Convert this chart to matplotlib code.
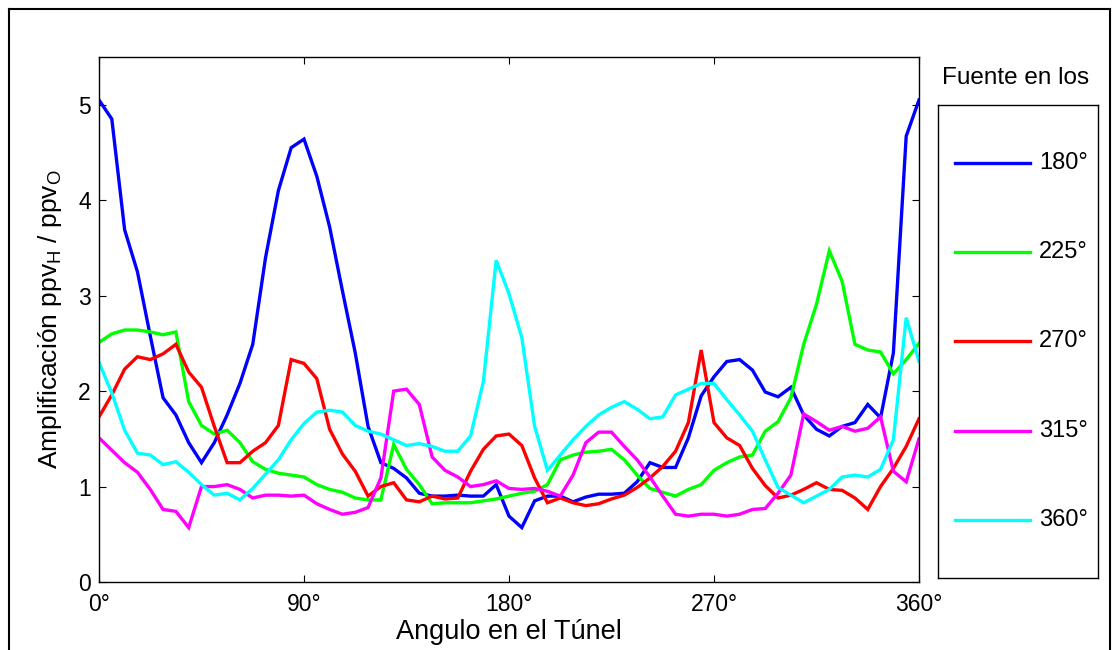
import numpy as np
import matplotlib
matplotlib.use("Agg")
import matplotlib.pyplot as plt
from matplotlib.lines import Line2D

plt.rcParams['font.family'] = ['Liberation Sans', 'DejaVu Sans']
plt.rcParams['mathtext.fontset'] = 'custom'
plt.rcParams['mathtext.rm'] = 'Liberation Sans'

# Angular positions around the tunnel (65 stations over the full circle)
angulo = np.linspace(0, 360, 65)

fuente_180 = [5.05, 4.85, 3.69, 3.25, 2.58, 1.93, 1.75, 1.46, 1.25, 1.46, 1.75, 2.08, 2.49,
              3.40, 4.10, 4.55, 4.64, 4.25, 3.72, 3.05, 2.40, 1.63, 1.25, 1.19, 1.09, 0.93,
              0.90, 0.90, 0.91, 0.90, 0.90, 1.02, 0.69, 0.57, 0.85, 0.90, 0.90, 0.84, 0.89,
              0.92, 0.92, 0.93, 1.05, 1.25, 1.20, 1.20, 1.51, 1.95, 2.15, 2.31, 2.33, 2.22,
              1.99, 1.94, 2.04, 1.75, 1.60, 1.53, 1.63, 1.67, 1.86, 1.72, 2.40, 4.67, 5.05]

fuente_225 = [2.51, 2.60, 2.64, 2.64, 2.62, 2.59, 2.62, 1.89, 1.64, 1.55, 1.59, 1.46, 1.26,
              1.18, 1.14, 1.12, 1.10, 1.02, 0.97, 0.94, 0.88, 0.86, 0.86, 1.44, 1.18, 1.02,
              0.82, 0.83, 0.83, 0.83, 0.85, 0.87, 0.90, 0.93, 0.95, 1.02, 1.28, 1.33, 1.36,
              1.37, 1.39, 1.28, 1.12, 0.98, 0.94, 0.90, 0.97, 1.02, 1.17, 1.25, 1.31, 1.33,
              1.58, 1.68, 1.93, 2.49, 2.91, 3.47, 3.15, 2.49, 2.43, 2.41, 2.18, 2.33, 2.50]

fuente_270 = [1.73, 1.96, 2.23, 2.36, 2.33, 2.39, 2.49, 2.20, 2.04, 1.63, 1.25, 1.25, 1.37,
              1.46, 1.64, 2.33, 2.29, 2.13, 1.60, 1.34, 1.16, 0.90, 1.00, 1.04, 0.86, 0.84,
              0.90, 0.87, 0.88, 1.16, 1.39, 1.53, 1.55, 1.43, 1.09, 0.83, 0.88, 0.83, 0.80,
              0.82, 0.87, 0.91, 0.99, 1.09, 1.21, 1.37, 1.67, 2.43, 1.67, 1.51, 1.43, 1.19,
              1.01, 0.88, 0.91, 0.97, 1.04, 0.97, 0.96, 0.88, 0.76, 1.00, 1.19, 1.42, 1.71]

fuente_315 = [1.51, 1.38, 1.25, 1.15, 0.97, 0.76, 0.74, 0.57, 1.00, 1.00, 1.02, 0.97, 0.88,
              0.91, 0.91, 0.90, 0.91, 0.82, 0.76, 0.71, 0.73, 0.78, 1.09, 2.00, 2.02, 1.86,
              1.31, 1.17, 1.10, 1.00, 1.02, 1.06, 0.98, 0.97, 0.98, 0.95, 0.90, 1.12, 1.46,
              1.57, 1.57, 1.42, 1.28, 1.10, 0.90, 0.71, 0.69, 0.71, 0.71, 0.69, 0.71, 0.76,
              0.77, 0.93, 1.12, 1.76, 1.68, 1.59, 1.63, 1.58, 1.61, 1.73, 1.16, 1.05, 1.50]

fuente_360 = [2.30, 1.98, 1.59, 1.35, 1.33, 1.23, 1.26, 1.15, 1.02, 0.91, 0.93, 0.86, 0.98,
              1.13, 1.28, 1.49, 1.66, 1.78, 1.80, 1.78, 1.64, 1.58, 1.55, 1.49, 1.43, 1.45,
              1.42, 1.37, 1.37, 1.53, 2.10, 3.37, 3.02, 2.56, 1.63, 1.17, 1.33, 1.49, 1.63,
              1.75, 1.83, 1.89, 1.81, 1.71, 1.73, 1.96, 2.02, 2.08, 2.08, 1.91, 1.75, 1.58,
              1.28, 0.99, 0.91, 0.83, 0.90, 0.97, 1.10, 1.12, 1.10, 1.18, 1.49, 2.77, 2.31]

series = [fuente_180, fuente_225, fuente_270, fuente_315, fuente_360]
etiquetas = ['180°', '225°', '270°', '315°', '360°']
colores = ['#0000ff', '#00ff00', '#ff0000', '#ff00ff', '#00ffff']

x_ticks = [0, 90, 180, 270, 360]
x_ticklabels = ['0°', '90°', '180°', '270°', '360°']
y_ticks = [0, 1, 2, 3, 4, 5]

W, H = 1118, 650
fig = plt.figure(figsize=(W / 100, H / 100), dpi=100)

def px_rect(x0, y0, x1, y1):
    return [x0 / W, 1 - y1 / H, (x1 - x0) / W, (y1 - y0) / H]

ax = fig.add_axes(px_rect(99, 57, 919, 582))
for y, color, lab in zip(series, colores, etiquetas):
    ax.plot(angulo, y, color=color, lw=2.4, label=lab, solid_joinstyle='miter')

ax.set_xlim(0, 360)
ax.set_ylim(0, 5.5)
ax.set_xticks(x_ticks)
ax.set_xticklabels(x_ticklabels)
ax.set_yticks(y_ticks)
ax.tick_params(direction='in', length=5, width=0.8, top=True, right=True,
               labelsize=16.5, colors='black')
ax.tick_params(axis='x', pad=8)
ax.tick_params(axis='y', pad=6)
for sp in ax.spines.values():
    sp.set_linewidth(1.0)
ax.set_xlabel('Angulo en el Túnel', fontsize=19.5, labelpad=2)
ax.set_ylabel('Amplificación ppv$_\\mathregular{H}$ / ppv$_\\mathregular{O}$',
              fontsize=19, labelpad=10)

# Legend panel on the right
lax = fig.add_axes(px_rect(938, 105, 1098, 578))
lax.set_xlim(0, 1)
lax.set_ylim(0, 1)
lax.set_xticks([])
lax.set_yticks([])
for sp in lax.spines.values():
    sp.set_linewidth(1.0)
y_rows = [163, 252, 341, 431, 520]
for yr, color, lab in zip(y_rows, colores, etiquetas):
    yy = (578 - yr) / (578 - 105)
    lax.plot([(955 - 938) / 160, (1030 - 938) / 160], [yy, yy], color=color, lw=2.4)
    lax.text((1039 - 938) / 160, yy, lab, fontsize=17, va='center', ha='left')

fig.text(1016 / W, 1 - 78 / H, 'Fuente en los', fontsize=17.5, ha='center', va='center')

# Outer frame
frame_kw = dict(color='black', lw=1.5, transform=fig.transFigure, clip_on=False)
fig.add_artist(Line2D([9 / W, 9 / W], [0, 1 - 9 / H], **frame_kw))
fig.add_artist(Line2D([9 / W, 1110 / W], [1 - 9 / H, 1 - 9 / H], **frame_kw))
fig.add_artist(Line2D([1110 / W, 1110 / W], [0, 1 - 9 / H], **frame_kw))

fig.savefig('out.png', dpi=100)
